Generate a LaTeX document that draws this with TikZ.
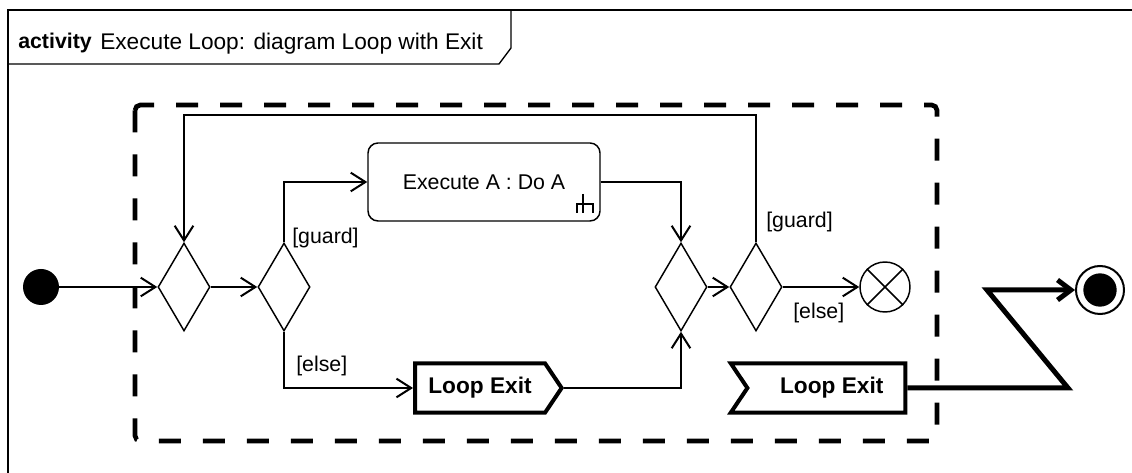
\documentclass[tikz,border=0pt]{standalone}
\usepackage{fontspec}
\setmainfont{Liberation Sans}
\usetikzlibrary{shapes.geometric}
\usetikzlibrary{shapes.symbols}
\usetikzlibrary{arrows.meta}

\begin{document}
\begin{tikzpicture}[x=0.75pt, y=-0.75pt, font=\fontsize{16}{19}\selectfont,
        flow/.style={line width=1.5pt, -{Straight Barb[length=11pt, width=14pt]}},
        decision/.style={diamond, draw, line width=1.1pt, minimum width=39pt, minimum height=66pt, inner sep=0pt},
        sendsig/.style={signal, signal to=east, signal pointer angle=112, draw, line width=3pt, font=\fontsize{17}{20}\selectfont\bfseries, minimum width=110pt, minimum height=37pt, inner sep=0pt},
        acceptsig/.style={signal, signal to=nowhere, signal from=west, signal pointer angle=112, draw, line width=3pt, font=\fontsize{17}{20}\selectfont\bfseries, minimum width=131pt, minimum height=37pt, inner sep=0pt},
        guardlbl/.style={anchor=west, inner sep=0pt}]
        \useasboundingbox (0,0) rectangle (1132,473);
        % frame and header tab
        \draw[line width=2pt] (1132,10) -- (8,10) -- (8,473);
        \draw[line width=1pt] (8,64) -- (499,64) -- (511,48) -- (511,10);
        \node[anchor=west, inner sep=0pt, font=\fontsize{16}{19}\selectfont\bfseries] (kw) at (18,43) {activity};
        \node[anchor=west, inner sep=0pt, font=\fontsize{17}{20}\selectfont] (title) at (100,44) {Execute Loop: diagram Loop with Exit};
        % interruptible region
        \draw[line width=3.5pt, dash pattern=on 16.5pt off 16.5pt, rounded corners=4pt] (135,105) rectangle (937,441);
        % nodes
        \node[circle, fill, minimum size=27pt, inner sep=0pt] (init) at (41,287) {};
        \node[decision] (merge) at (184,287) {};
        \node[decision] (dec) at (284,287) {};
        \node[draw, rounded corners=7.5pt, line width=1.1pt, minimum width=174pt, minimum height=58.5pt] (act) at (484,182) {Execute A : Do A};
        \draw[line width=1.5pt] (583,194) -- (583,213) (577,213) -- (577,204) -- (593,204) -- (593,213);
        \node[sendsig, anchor=west] (exit) at (413,388) {Loop Exit\hspace{10pt}};
        \node[decision] (merge2) at (681,287) {};
        \node[decision] (dec2) at (756,287) {};
        \node[circle, draw, line width=1.1pt, minimum size=37.5pt, inner sep=0pt] (ff) at (885,287) {};
        \draw[line width=1.1pt] (ff.45) -- (ff.225) (ff.135) -- (ff.-45);
        \node[acceptsig, anchor=west] (accept) at (745,388) {\hspace{8pt}Loop Exit};
        \node[circle, draw, line width=1.5pt, minimum size=36pt, inner sep=0pt] (fin) at (1100,290) {};
        \fill (fin.center) circle (12.5pt);
        \coordinate (back) at (470,115);
        \coordinate (zlow) at (1068,388);
        \coordinate (zup) at (987,290);
        % edges
        \draw[flow] (init) -- (merge);
        \draw[flow] (merge) -- (dec);
        \draw[flow] (dec.north) |- (act.west);
        \draw[flow] (dec.south) |- (exit.west);
        \draw[flow] (act.east) -| (merge2.north);
        \draw[flow] (exit.east) -| (merge2.south);
        \draw[flow] (merge2) -- (dec2);
        \draw[flow] (dec2.north) |- (back) -| (merge.north);
        \draw[flow] (dec2) -- (ff);
        \draw[line width=3.75pt, -{Straight Barb[length=10pt, width=15pt]}] (accept.east) -- (zlow) -- (zup) -- (fin);
        % guards
        \node[guardlbl] (g1) at (292,238) {[guard]};
        \node[guardlbl] (e1) at (296,366) {[else]};
        \node[guardlbl] (g2) at (766,222) {[guard]};
        \node[guardlbl] (e2) at (793,313) {[else]};
\end{tikzpicture}
\end{document}
